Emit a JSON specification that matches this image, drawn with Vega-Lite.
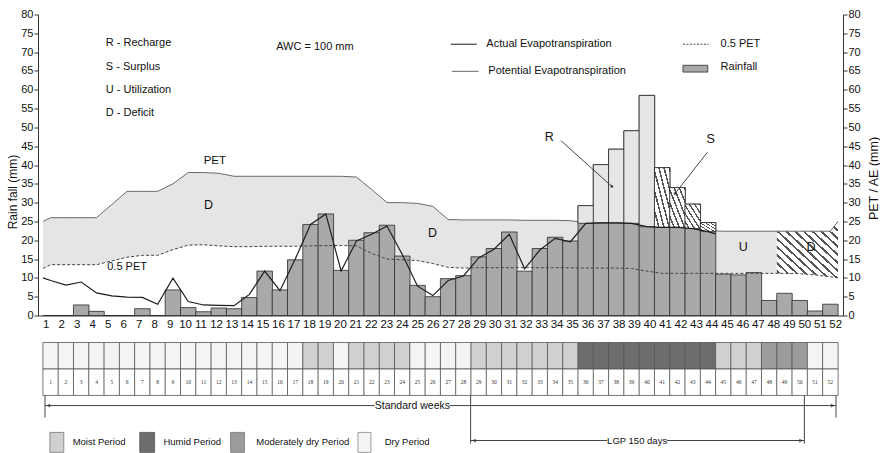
{
  "$schema": "https://vega.github.io/schema/vega-lite/v6.json",
  "padding": {"left": 6, "top": 8.5, "right": 0, "bottom": 0},
  "spacing": 11,
  "config": {"font": "Liberation Sans", "view": {"stroke": null}, "axis": {"disable": true, "labelOverlap": false}},
  "datasets": {
    "weeks": [
      {"week":1,"rain":0,"period":"Dry"},{"week":2,"rain":0,"period":"Dry"},{"week":3,"rain":2.8,"period":"Dry"},{"week":4,"rain":1.1,"period":"Dry"},
      {"week":5,"rain":0,"period":"Dry"},{"week":6,"rain":0,"period":"Dry"},{"week":7,"rain":1.8,"period":"Dry"},{"week":8,"rain":0,"period":"Dry"},
      {"week":9,"rain":6.8,"period":"Dry"},{"week":10,"rain":2.1,"period":"Dry"},{"week":11,"rain":1.0,"period":"Dry"},{"week":12,"rain":2.0,"period":"Dry"},
      {"week":13,"rain":1.8,"period":"Dry"},{"week":14,"rain":4.8,"period":"Dry"},{"week":15,"rain":11.8,"period":"Dry"},{"week":16,"rain":6.8,"period":"Dry"},
      {"week":17,"rain":14.8,"period":"Dry"},{"week":18,"rain":24.2,"period":"Moist"},{"week":19,"rain":27.0,"period":"Moist"},{"week":20,"rain":12.0,"period":"Dry"},
      {"week":21,"rain":20.0,"period":"Moist"},{"week":22,"rain":22.0,"period":"Moist"},{"week":23,"rain":24.0,"period":"Moist"},{"week":24,"rain":15.8,"period":"Moist"},
      {"week":25,"rain":8.0,"period":"Dry"},{"week":26,"rain":5.0,"period":"Dry"},{"week":27,"rain":9.8,"period":"Dry"},{"week":28,"rain":10.6,"period":"Dry"},
      {"week":29,"rain":15.6,"period":"Moist"},{"week":30,"rain":17.8,"period":"Moist"},{"week":31,"rain":22.2,"period":"Moist"},{"week":32,"rain":11.8,"period":"Moist"},
      {"week":33,"rain":17.8,"period":"Moist"},{"week":34,"rain":20.8,"period":"Moist"},{"week":35,"rain":19.8,"period":"Moist"},
      {"week":36,"rain":29.2,"period":"Humid","excess":"R","ae":24.5},{"week":37,"rain":40.1,"period":"Humid","excess":"R","ae":24.6},{"week":38,"rain":44.2,"period":"Humid","excess":"R","ae":24.6},
      {"week":39,"rain":49.1,"period":"Humid","excess":"R","ae":24.5},{"week":40,"rain":58.5,"period":"Humid","excess":"R","ae":23.6},{"week":41,"rain":39.3,"period":"Humid","excess":"S","ae":23.4},
      {"week":42,"rain":34.0,"period":"Humid","excess":"S","ae":23.4},{"week":43,"rain":29.6,"period":"Humid","excess":"S","ae":23.1},{"week":44,"rain":24.7,"period":"Humid","excess":"S","ae":22.3},
      {"week":45,"rain":11.0,"period":"Moist"},{"week":46,"rain":10.8,"period":"Moist"},{"week":47,"rain":11.4,"period":"Moist"},
      {"week":48,"rain":4.0,"period":"Moderately dry"},{"week":49,"rain":5.9,"period":"Moderately dry"},{"week":50,"rain":4.0,"period":"Moderately dry"},
      {"week":51,"rain":1.2,"period":"Dry"},{"week":52,"rain":3.0,"period":"Dry"}
    ],
    "pet": [
      {"x":0.5,"pet":25,"half":12.5},{"x":1,"pet":26,"half":13.5},{"x":2,"pet":26,"half":13.5},{"x":3,"pet":26,"half":13.5},{"x":4,"pet":26,"half":13.5},
      {"x":5,"pet":29.5,"half":14.5},{"x":6,"pet":33,"half":15.5},{"x":7,"pet":33,"half":16},{"x":8,"pet":33,"half":16},{"x":9,"pet":35,"half":17.5},
      {"x":10,"pet":38,"half":18.7},{"x":11,"pet":38,"half":18.8},{"x":12,"pet":37.8,"half":18.5},{"x":13,"pet":37,"half":18.3},{"x":14,"pet":37,"half":18.3},
      {"x":15,"pet":37,"half":18.4},{"x":16,"pet":37,"half":18.4},{"x":17,"pet":37,"half":18.4},{"x":18,"pet":37,"half":18.5},{"x":19,"pet":37,"half":18.6},
      {"x":20,"pet":37,"half":18.6},{"x":21,"pet":36.8,"half":18.5},{"x":22,"pet":33.5,"half":16.5},{"x":23,"pet":30,"half":15},{"x":24,"pet":30,"half":14.8},
      {"x":25,"pet":29.8,"half":14.6},{"x":26,"pet":29,"half":13.8},{"x":27,"pet":25.5,"half":12.8},{"x":28,"pet":25.4,"half":12.6},{"x":29,"pet":25.4,"half":12.7},
      {"x":30,"pet":25.4,"half":12.7},{"x":31,"pet":25.4,"half":12.7},{"x":32,"pet":25.3,"half":12.7},{"x":33,"pet":25.3,"half":12.7},{"x":34,"pet":25.3,"half":12.7},
      {"x":35,"pet":25.2,"half":12.7},{"x":36,"pet":24.6,"half":12.6},{"x":37,"pet":24.7,"half":12.6},{"x":38,"pet":24.7,"half":12.6},{"x":39,"pet":24.6,"half":12.5},
      {"x":40,"pet":23.7,"half":11.8},{"x":41,"pet":23.5,"half":11.2},{"x":42,"pet":23.5,"half":11.2},{"x":43,"pet":23.2,"half":11.2},{"x":44,"pet":22.6,"half":11.2},
      {"x":45,"pet":22.4,"half":11.2},{"x":46,"pet":22.4,"half":11.2},{"x":47,"pet":22.4,"half":11.2},{"x":48,"pet":22.4,"half":11.2},{"x":48.5,"pet":22.4,"half":11.2},
      {"x":49,"pet":22.4,"half":11.2},{"x":50,"pet":22.4,"half":11.1},{"x":51,"pet":22.4,"half":10.8},{"x":52,"pet":22.4,"half":10.3},{"x":52.5,"pet":25,"half":10}
    ],
    "ae": [
      {"x":0.5,"ae":10},{"x":1,"ae":9.3},{"x":2,"ae":8.1},{"x":3,"ae":8.9},{"x":4,"ae":6.0},{"x":5,"ae":5.2},{"x":6,"ae":4.9},{"x":7,"ae":4.8},
      {"x":8,"ae":3.0},{"x":9,"ae":9.9},{"x":10,"ae":3.7},{"x":11,"ae":2.8},{"x":12,"ae":2.7},{"x":13,"ae":2.6},{"x":14,"ae":5.6},{"x":15,"ae":11.8},
      {"x":16,"ae":6.6},{"x":17,"ae":15.0},{"x":18,"ae":24.2},{"x":19,"ae":27.0},{"x":20,"ae":11.8},{"x":21,"ae":19.8},{"x":22,"ae":21.6},{"x":23,"ae":23.8},
      {"x":24,"ae":16.2},{"x":25,"ae":7.8},{"x":26,"ae":5.3},{"x":27,"ae":9.3},{"x":28,"ae":10.5},{"x":29,"ae":15.3},{"x":30,"ae":17.6},{"x":31,"ae":21.6},
      {"x":32,"ae":12.4},{"x":33,"ae":17.4},{"x":34,"ae":20.5},{"x":35,"ae":19.6},{"x":36,"ae":24.5},{"x":37,"ae":24.6},{"x":38,"ae":24.6},{"x":39,"ae":24.5},
      {"x":40,"ae":23.6},{"x":41,"ae":23.4},{"x":42,"ae":23.4},{"x":43,"ae":23.1},{"x":44,"ae":22.3},{"x":44.5,"ae":21.7}
    ]
  },
  "vconcat": [
    {
      "width": 805,
      "height": 301,
      "resolve": {"scale": {"y": "independent", "x": "independent"}},
      "layer": [
        {
          "layer": [
            {
              "data": {"name": "pet"},
              "transform": [{"filter": "datum.x <= 48.5"}],
              "mark": {"type": "area", "fill": "#e5e5e5"},
              "encoding": {
                "x": {"field": "x", "type": "quantitative", "scale": {"domain": [0.5, 52.5], "nice": false, "zero": false}},
                "y": {"field": "pet", "type": "quantitative", "scale": {"domain": [0, 80], "nice": false, "zero": true}},
                "y2": {"field": "half"}
              }
            },
            {
              "data": {"name": "pet"},
              "transform": [{"filter": "datum.x >= 48.5"}],
              "mark": {"type": "area", "fill": {"gradient": "linear", "x1": 0, "y1": 1, "x2": 1, "y2": 0, "stops": [
                {"offset":0,"color":"#ffffff"},{"offset":0.05,"color":"#ffffff"},{"offset":0.05,"color":"#555555"},{"offset":0.0714,"color":"#555555"},
                {"offset":0.0714,"color":"#ffffff"},{"offset":0.1214,"color":"#ffffff"},{"offset":0.1214,"color":"#555555"},{"offset":0.1429,"color":"#555555"},
                {"offset":0.1429,"color":"#ffffff"},{"offset":0.1929,"color":"#ffffff"},{"offset":0.1929,"color":"#555555"},{"offset":0.2143,"color":"#555555"},
                {"offset":0.2143,"color":"#ffffff"},{"offset":0.2643,"color":"#ffffff"},{"offset":0.2643,"color":"#555555"},{"offset":0.2857,"color":"#555555"},
                {"offset":0.2857,"color":"#ffffff"},{"offset":0.3357,"color":"#ffffff"},{"offset":0.3357,"color":"#555555"},{"offset":0.3571,"color":"#555555"},
                {"offset":0.3571,"color":"#ffffff"},{"offset":0.4071,"color":"#ffffff"},{"offset":0.4071,"color":"#555555"},{"offset":0.4286,"color":"#555555"},
                {"offset":0.4286,"color":"#ffffff"},{"offset":0.4786,"color":"#ffffff"},{"offset":0.4786,"color":"#555555"},{"offset":0.5,"color":"#555555"},
                {"offset":0.5,"color":"#ffffff"},{"offset":0.55,"color":"#ffffff"},{"offset":0.55,"color":"#555555"},{"offset":0.5714,"color":"#555555"},
                {"offset":0.5714,"color":"#ffffff"},{"offset":0.6214,"color":"#ffffff"},{"offset":0.6214,"color":"#555555"},{"offset":0.6429,"color":"#555555"},
                {"offset":0.6429,"color":"#ffffff"},{"offset":0.6929,"color":"#ffffff"},{"offset":0.6929,"color":"#555555"},{"offset":0.7143,"color":"#555555"},
                {"offset":0.7143,"color":"#ffffff"},{"offset":0.7643,"color":"#ffffff"},{"offset":0.7643,"color":"#555555"},{"offset":0.7857,"color":"#555555"},
                {"offset":0.7857,"color":"#ffffff"},{"offset":0.8357,"color":"#ffffff"},{"offset":0.8357,"color":"#555555"},{"offset":0.8571,"color":"#555555"},
                {"offset":0.8571,"color":"#ffffff"},{"offset":0.9071,"color":"#ffffff"},{"offset":0.9071,"color":"#555555"},{"offset":0.9286,"color":"#555555"},
                {"offset":0.9286,"color":"#ffffff"},{"offset":0.9786,"color":"#ffffff"},{"offset":0.9786,"color":"#555555"},{"offset":1,"color":"#555555"}]}},
              "encoding": {
                "x": {"field": "x", "type": "quantitative"},
                "y": {"field": "pet", "type": "quantitative"},
                "y2": {"field": "half"}
              }
            },
            {
              "data": {"name": "pet"},
              "mark": {"type": "line", "stroke": "#6a6a6a", "strokeWidth": 1},
              "encoding": {"x": {"field": "x", "type": "quantitative"}, "y": {"field": "pet", "type": "quantitative"}}
            },
            {
              "data": {"name": "weeks"},
              "mark": {"type": "bar", "size": 15.48, "fill": "#a9a9a9", "stroke": "#2a2a2a", "strokeWidth": 0.8},
              "encoding": {"x": {"field": "week", "type": "quantitative"}, "y": {"field": "rain", "type": "quantitative"}}
            },
            {
              "data": {"name": "weeks"},
              "transform": [{"filter": "datum.excess === 'R'"}],
              "mark": {"type": "bar", "size": 15.48, "fill": "#e6e6e6", "stroke": "#2a2a2a", "strokeWidth": 0.8},
              "encoding": {"x": {"field": "week", "type": "quantitative"}, "y": {"field": "ae", "type": "quantitative"}, "y2": {"field": "rain"}}
            },
            {
              "data": {"name": "weeks"},
              "transform": [{"filter": "datum.excess === 'S'"}],
              "mark": {"type": "bar", "size": 15.48, "stroke": "#2a2a2a", "strokeWidth": 0.8, "fill": {"gradient": "linear", "x1": 0, "y1": 1, "x2": 1, "y2": 0, "stops": [
                {"offset":0,"color":"#ffffff"},{"offset":0.1167,"color":"#ffffff"},{"offset":0.1167,"color":"#555555"},{"offset":0.1667,"color":"#555555"},
                {"offset":0.1667,"color":"#ffffff"},{"offset":0.2833,"color":"#ffffff"},{"offset":0.2833,"color":"#555555"},{"offset":0.3333,"color":"#555555"},
                {"offset":0.3333,"color":"#ffffff"},{"offset":0.45,"color":"#ffffff"},{"offset":0.45,"color":"#555555"},{"offset":0.5,"color":"#555555"},
                {"offset":0.5,"color":"#ffffff"},{"offset":0.6167,"color":"#ffffff"},{"offset":0.6167,"color":"#555555"},{"offset":0.6667,"color":"#555555"},
                {"offset":0.6667,"color":"#ffffff"},{"offset":0.7833,"color":"#ffffff"},{"offset":0.7833,"color":"#555555"},{"offset":0.8333,"color":"#555555"},
                {"offset":0.8333,"color":"#ffffff"},{"offset":0.95,"color":"#ffffff"},{"offset":0.95,"color":"#555555"},{"offset":1,"color":"#555555"}]}},
              "encoding": {"x": {"field": "week", "type": "quantitative"}, "y": {"field": "ae", "type": "quantitative"}, "y2": {"field": "rain"}}
            },
            {
              "data": {"name": "pet"},
              "mark": {"type": "line", "stroke": "#444444", "strokeWidth": 1, "strokeDash": [3, 2]},
              "encoding": {"x": {"field": "x", "type": "quantitative"}, "y": {"field": "half", "type": "quantitative"}}
            },
            {
              "data": {"name": "ae"},
              "mark": {"type": "line", "stroke": "#1e1e1e", "strokeWidth": 1.2},
              "encoding": {"x": {"field": "x", "type": "quantitative"}, "y": {"field": "ae", "type": "quantitative"}}
            },
            {
              "data": {"values": [{}]},
              "mark": {"type": "text", "text": ["R - Recharge", "S - Surplus", "U - Utilization", "D - Deficit"], "lineHeight": 23.1, "align": "left", "baseline": "middle", "fontSize": 11, "fill": "#111"},
              "encoding": {"x": {"datum": 4.61, "type": "quantitative"}, "y": {"datum": 72.3, "type": "quantitative"}}
            },
            {
              "data": {"values": [{}]},
              "mark": {"type": "text", "text": "AWC = 100 mm", "align": "left", "baseline": "middle", "fontSize": 11, "fill": "#111"},
              "encoding": {"x": {"datum": 15.75, "type": "quantitative"}, "y": {"datum": 71.4, "type": "quantitative"}}
            },
            {
              "data": {"values": [{}]},
              "mark": {"type": "rule", "stroke": "#1e1e1e", "strokeWidth": 1},
              "encoding": {"x": {"datum": 27.16, "type": "quantitative"}, "x2": {"datum": 28.88}, "y": {"datum": 72.1, "type": "quantitative"}}
            },
            {
              "data": {"values": [{}]},
              "mark": {"type": "text", "text": "Actual Evapotranspiration", "align": "left", "baseline": "middle", "fontSize": 11, "fill": "#111"},
              "encoding": {"x": {"datum": 29.5, "type": "quantitative"}, "y": {"datum": 72.1, "type": "quantitative"}}
            },
            {
              "data": {"values": [{}]},
              "mark": {"type": "rule", "stroke": "#6a6a6a", "strokeWidth": 1},
              "encoding": {"x": {"datum": 27.24, "type": "quantitative"}, "x2": {"datum": 28.99}, "y": {"datum": 64.9, "type": "quantitative"}}
            },
            {
              "data": {"values": [{}]},
              "mark": {"type": "text", "text": "Potential Evapotranspiration", "align": "left", "baseline": "middle", "fontSize": 11, "fill": "#111"},
              "encoding": {"x": {"datum": 29.63, "type": "quantitative"}, "y": {"datum": 64.9, "type": "quantitative"}}
            },
            {
              "data": {"values": [{}]},
              "mark": {"type": "rule", "stroke": "#444444", "strokeWidth": 1, "strokeDash": [2, 1.5]},
              "encoding": {"x": {"datum": 42.36, "type": "quantitative"}, "x2": {"datum": 44.04}, "y": {"datum": 72.1, "type": "quantitative"}}
            },
            {
              "data": {"values": [{}]},
              "mark": {"type": "text", "text": "0.5 PET", "align": "left", "baseline": "middle", "fontSize": 11, "fill": "#111"},
              "encoding": {"x": {"datum": 44.82, "type": "quantitative"}, "y": {"datum": 72.1, "type": "quantitative"}}
            },
            {
              "data": {"values": [{}]},
              "mark": {"type": "rect", "fill": "#a9a9a9", "stroke": "#2a2a2a", "strokeWidth": 0.8},
              "encoding": {"x": {"datum": 42.36, "type": "quantitative"}, "x2": {"datum": 43.98}, "y": {"datum": 66.5, "type": "quantitative"}, "y2": {"datum": 64.7}}
            },
            {
              "data": {"values": [{}]},
              "mark": {"type": "text", "text": "Rainfall", "align": "left", "baseline": "middle", "fontSize": 11, "fill": "#111"},
              "encoding": {"x": {"datum": 44.82, "type": "quantitative"}, "y": {"datum": 66.0, "type": "quantitative"}}
            },
            {
              "data": {"values": [{}]},
              "mark": {"type": "text", "text": "PET", "align": "center", "baseline": "middle", "fontSize": 11.5, "fill": "#111"},
              "encoding": {"x": {"datum": 11.74, "type": "quantitative"}, "y": {"datum": 41.0, "type": "quantitative"}}
            },
            {
              "data": {"values": [{}]},
              "mark": {"type": "text", "text": "D", "align": "center", "baseline": "middle", "fontSize": 12.5, "fill": "#111"},
              "encoding": {"x": {"datum": 11.33, "type": "quantitative"}, "y": {"datum": 29.3, "type": "quantitative"}}
            },
            {
              "data": {"values": [{}]},
              "mark": {"type": "text", "text": "0.5 PET", "align": "center", "baseline": "middle", "fontSize": 11, "fill": "#111"},
              "encoding": {"x": {"datum": 6.0, "type": "quantitative"}, "y": {"datum": 13.0, "type": "quantitative"}}
            },
            {
              "data": {"values": [{}]},
              "mark": {"type": "text", "text": "D", "align": "center", "baseline": "middle", "fontSize": 12.5, "fill": "#111"},
              "encoding": {"x": {"datum": 25.97, "type": "quantitative"}, "y": {"datum": 21.9, "type": "quantitative"}}
            },
            {
              "data": {"values": [{}]},
              "mark": {"type": "text", "text": "R", "align": "center", "baseline": "middle", "fontSize": 12.5, "fill": "#111"},
              "encoding": {"x": {"datum": 33.62, "type": "quantitative"}, "y": {"datum": 47.4, "type": "quantitative"}}
            },
            {
              "data": {"values": [{}]},
              "mark": {"type": "text", "text": "S", "align": "center", "baseline": "middle", "fontSize": 12.5, "fill": "#111"},
              "encoding": {"x": {"datum": 44.17, "type": "quantitative"}, "y": {"datum": 47.0, "type": "quantitative"}}
            },
            {
              "data": {"values": [{}]},
              "mark": {"type": "rule", "stroke": "#333333", "strokeWidth": 0.9},
              "encoding": {"x": {"datum": 34.37, "type": "quantitative"}, "y": {"datum": 46.5, "type": "quantitative"}, "x2": {"datum": 37.71}, "y2": {"datum": 34.3}}
            },
            {
              "data": {"values": [{}]},
              "mark": {"type": "rule", "stroke": "#333333", "strokeWidth": 0.9},
              "encoding": {"x": {"datum": 43.96, "type": "quantitative"}, "y": {"datum": 43.4, "type": "quantitative"}, "x2": {"datum": 41.84}, "y2": {"datum": 32.4}}
            },
            {
              "data": {"values": [{}]},
              "mark": {"type": "point", "filled": true, "size": 8, "color": "#111"},
              "encoding": {"x": {"datum": 37.71, "type": "quantitative"}, "y": {"datum": 34.3, "type": "quantitative"}}
            },
            {
              "data": {"values": [{}]},
              "mark": {"type": "point", "filled": true, "size": 8, "color": "#111"},
              "encoding": {"x": {"datum": 41.84, "type": "quantitative"}, "y": {"datum": 32.4, "type": "quantitative"}}
            },
            {
              "data": {"values": [{}]},
              "mark": {"type": "text", "text": "U", "align": "center", "baseline": "middle", "fontSize": 12.5, "fill": "#111"},
              "encoding": {"x": {"datum": 46.3, "type": "quantitative"}, "y": {"datum": 18.2, "type": "quantitative"}}
            },
            {
              "data": {"values": [{}]},
              "mark": {"type": "text", "text": "D", "align": "center", "baseline": "middle", "fontSize": 12.5, "fill": "#111"},
              "encoding": {"x": {"datum": 50.74, "type": "quantitative"}, "y": {"datum": 18.2, "type": "quantitative"}}
            }
          ]
        },
        {
          "data": {"values": [{}]},
          "mark": {"type": "point", "opacity": 0, "size": 0},
          "encoding": {
            "x": {"datum": 1, "type": "quantitative", "scale": {"domain": [0.5, 52.5], "nice": false, "zero": false},
              "axis": {"orient": "bottom", "values": [1,2,3,4,5,6,7,8,9,10,11,12,13,14,15,16,17,18,19,20,21,22,23,24,25,26,27,28,29,30,31,32,33,34,35,36,37,38,39,40,41,42,43,44,45,46,47,48,49,50,51,52],
                "title": null, "ticks": false, "grid": false, "labelFontSize": 11.5, "labelPadding": 3, "labelOverlap": false, "labelFlush": false, "domainColor": "#333", "labelColor": "#111"}},
            "y": {"datum": 0, "type": "quantitative", "scale": {"domain": [0, 80], "nice": false},
              "axis": {"orient": "left", "values": [0,5,10,15,20,25,30,35,40,45,50,55,60,65,70,75,80], "title": "Rain fall (mm)", "grid": false, "tickSize": 4, "labelOverlap": false,
                "labelFontSize": 11, "labelPadding": 1, "titleFontSize": 12, "titleFontWeight": "normal", "titleAngle": 270, "titleX": -26, "titleY": 177,
                "titleAlign": "center", "titleBaseline": "middle", "domainColor": "#333", "tickColor": "#333", "labelColor": "#111", "titleColor": "#111"}}
          }
        },
        {
          "data": {"values": [{}]},
          "mark": {"type": "rule", "opacity": 0},
          "encoding": {
            "y": {"datum": 0, "type": "quantitative", "scale": {"domain": [0, 80], "nice": false},
              "axis": {"orient": "right", "values": [0,5,10,15,20,25,30,35,40,45,50,55,60,65,70,75,80], "title": "PET / AE (mm)", "grid": false, "tickSize": 4, "labelOverlap": false,
                "labelFontSize": 11, "labelPadding": 1, "titleFontSize": 12.5, "titleFontWeight": "normal", "titleAngle": 270, "titleX": 30, "titleY": 163.5,
                "titleAlign": "center", "titleBaseline": "middle", "domainColor": "#333", "tickColor": "#333", "labelColor": "#111", "titleColor": "#111"}}
          }
        }
      ]
    },
    {
      "width": 805,
      "height": 111,
      "layer": [
        {
          "data": {"name": "weeks"},
          "mark": {"type": "bar", "size": 15.48, "stroke": "#555555", "strokeWidth": 0.8},
          "encoding": {
            "x": {"field": "week", "type": "quantitative", "scale": {"domain": [0.5, 52.5], "nice": false, "zero": false}, "axis": null},
            "y": {"datum": 0, "type": "quantitative", "scale": {"domain": [0, 10], "reverse": true, "nice": false, "zero": false}, "axis": null},
            "y2": {"datum": 2.39},
            "color": {"field": "period", "type": "nominal", "scale": {"domain": ["Dry", "Moist", "Humid", "Moderately dry"], "range": ["#f4f4f4", "#d0d0d0", "#6d6d6d", "#9c9c9c"]}, "legend": null}
          }
        },
        {
          "data": {"name": "weeks"},
          "mark": {"type": "bar", "size": 15.48, "fill": "#ffffff", "stroke": "#555555", "strokeWidth": 0.8},
          "encoding": {
            "x": {"field": "week", "type": "quantitative"},
            "y": {"datum": 2.39, "type": "quantitative"},
            "y2": {"datum": 4.77}
          }
        },
        {
          "data": {"name": "weeks"},
          "mark": {"type": "text", "font": "Liberation Serif", "fontSize": 5.5, "fill": "#333333", "align": "center", "baseline": "middle"},
          "encoding": {
            "x": {"field": "week", "type": "quantitative"},
            "y": {"datum": 3.6, "type": "quantitative"},
            "text": {"field": "week", "type": "quantitative"}
          }
        },
        {
          "data": {"values": [{}]},
          "mark": {"type": "rule", "stroke": "#444", "strokeWidth": 1},
          "encoding": {"x": {"datum": 0.63, "type": "quantitative"}, "x2": {"datum": 22.2}, "y": {"datum": 5.68, "type": "quantitative"}}
        },
        {
          "data": {"values": [{}]},
          "mark": {"type": "rule", "stroke": "#444", "strokeWidth": 1},
          "encoding": {"x": {"datum": 27.1, "type": "quantitative"}, "x2": {"datum": 52.37}, "y": {"datum": 5.68, "type": "quantitative"}}
        },
        {
          "data": {"values": [{}]},
          "mark": {"type": "rule", "stroke": "#444", "strokeWidth": 1},
          "encoding": {"x": {"datum": 0.63, "type": "quantitative"}, "y": {"datum": 4.77, "type": "quantitative"}, "y2": {"datum": 6.76}}
        },
        {
          "data": {"values": [{}]},
          "mark": {"type": "rule", "stroke": "#444", "strokeWidth": 1},
          "encoding": {"x": {"datum": 52.37, "type": "quantitative"}, "y": {"datum": 4.77, "type": "quantitative"}, "y2": {"datum": 6.76}}
        },
        {
          "data": {"values": [{}]},
          "mark": {"type": "point", "shape": "triangle-left", "filled": true, "size": 18, "color": "#333"},
          "encoding": {"x": {"datum": 0.85, "type": "quantitative"}, "y": {"datum": 5.68, "type": "quantitative"}}
        },
        {
          "data": {"values": [{}]},
          "mark": {"type": "point", "shape": "triangle-right", "filled": true, "size": 18, "color": "#333"},
          "encoding": {"x": {"datum": 52.15, "type": "quantitative"}, "y": {"datum": 5.68, "type": "quantitative"}}
        },
        {
          "data": {"values": [{}]},
          "mark": {"type": "text", "text": "Standard weeks", "align": "center", "baseline": "middle", "fontSize": 10.5, "fill": "#111"},
          "encoding": {"x": {"datum": 24.66, "type": "quantitative"}, "y": {"datum": 5.68, "type": "quantitative"}}
        },
        {
          "data": {"values": [{}]},
          "mark": {"type": "rule", "stroke": "#444", "strokeWidth": 1},
          "encoding": {"x": {"datum": 28.47, "type": "quantitative"}, "y": {"datum": 4.77, "type": "quantitative"}, "y2": {"datum": 9.1}}
        },
        {
          "data": {"values": [{}]},
          "mark": {"type": "rule", "stroke": "#444", "strokeWidth": 1},
          "encoding": {"x": {"datum": 50.3, "type": "quantitative"}, "y": {"datum": 4.77, "type": "quantitative"}, "y2": {"datum": 9.1}}
        },
        {
          "data": {"values": [{}]},
          "mark": {"type": "rule", "stroke": "#444", "strokeWidth": 1},
          "encoding": {"x": {"datum": 28.47, "type": "quantitative"}, "x2": {"datum": 37.4}, "y": {"datum": 8.83, "type": "quantitative"}}
        },
        {
          "data": {"values": [{}]},
          "mark": {"type": "rule", "stroke": "#444", "strokeWidth": 1},
          "encoding": {"x": {"datum": 41.3, "type": "quantitative"}, "x2": {"datum": 50.3}, "y": {"datum": 8.83, "type": "quantitative"}}
        },
        {
          "data": {"values": [{}]},
          "mark": {"type": "point", "shape": "triangle-left", "filled": true, "size": 18, "color": "#333"},
          "encoding": {"x": {"datum": 28.69, "type": "quantitative"}, "y": {"datum": 8.83, "type": "quantitative"}}
        },
        {
          "data": {"values": [{}]},
          "mark": {"type": "point", "shape": "triangle-right", "filled": true, "size": 18, "color": "#333"},
          "encoding": {"x": {"datum": 50.08, "type": "quantitative"}, "y": {"datum": 8.83, "type": "quantitative"}}
        },
        {
          "data": {"values": [{}]},
          "mark": {"type": "text", "text": "LGP 150 days", "align": "center", "baseline": "middle", "fontSize": 9.5, "fill": "#111"},
          "encoding": {"x": {"datum": 39.36, "type": "quantitative"}, "y": {"datum": 8.83, "type": "quantitative"}}
        },
        {
          "data": {"values": [{}]},
          "mark": {"type": "rect", "fill": "#d0d0d0", "stroke": "#777", "strokeWidth": 0.8},
          "encoding": {"x": {"datum": 0.95, "type": "quantitative"}, "x2": {"datum": 1.86}, "y": {"datum": 8.1, "type": "quantitative"}, "y2": {"datum": 9.9}}
        },
        {
          "data": {"values": [{}]},
          "mark": {"type": "text", "text": "Moist Period", "align": "left", "baseline": "middle", "fontSize": 9.5, "fill": "#111"},
          "encoding": {"x": {"datum": 2.44, "type": "quantitative"}, "y": {"datum": 9.0, "type": "quantitative"}}
        },
        {
          "data": {"values": [{}]},
          "mark": {"type": "rect", "fill": "#6d6d6d", "stroke": "#555", "strokeWidth": 0.8},
          "encoding": {"x": {"datum": 6.83, "type": "quantitative"}, "x2": {"datum": 7.8}, "y": {"datum": 8.1, "type": "quantitative"}, "y2": {"datum": 9.9}}
        },
        {
          "data": {"values": [{}]},
          "mark": {"type": "text", "text": "Humid Period", "align": "left", "baseline": "middle", "fontSize": 9.5, "fill": "#111"},
          "encoding": {"x": {"datum": 8.38, "type": "quantitative"}, "y": {"datum": 9.0, "type": "quantitative"}}
        },
        {
          "data": {"values": [{}]},
          "mark": {"type": "rect", "fill": "#9c9c9c", "stroke": "#777", "strokeWidth": 0.8},
          "encoding": {"x": {"datum": 12.77, "type": "quantitative"}, "x2": {"datum": 13.68}, "y": {"datum": 8.1, "type": "quantitative"}, "y2": {"datum": 9.9}}
        },
        {
          "data": {"values": [{}]},
          "mark": {"type": "text", "text": "Moderately dry Period", "align": "left", "baseline": "middle", "fontSize": 9.5, "fill": "#111"},
          "encoding": {"x": {"datum": 14.45, "type": "quantitative"}, "y": {"datum": 9.0, "type": "quantitative"}}
        },
        {
          "data": {"values": [{}]},
          "mark": {"type": "rect", "fill": "#f4f4f4", "stroke": "#888", "strokeWidth": 0.8},
          "encoding": {"x": {"datum": 21.1, "type": "quantitative"}, "x2": {"datum": 21.95}, "y": {"datum": 8.1, "type": "quantitative"}, "y2": {"datum": 9.9}}
        },
        {
          "data": {"values": [{}]},
          "mark": {"type": "text", "text": "Dry Period", "align": "left", "baseline": "middle", "fontSize": 9.5, "fill": "#111"},
          "encoding": {"x": {"datum": 22.85, "type": "quantitative"}, "y": {"datum": 9.0, "type": "quantitative"}}
        }
      ]
    }
  ]
}
